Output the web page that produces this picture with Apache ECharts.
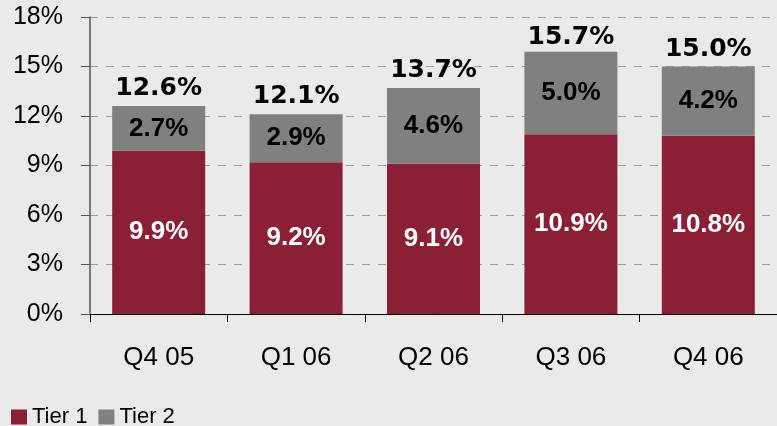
<!DOCTYPE html>
<html>
<head>
<meta charset="utf-8">
<script src="https://cdn.jsdelivr.net/npm/echarts@6/dist/echarts.min.js"></script>
<style>
  html, body { margin: 0; padding: 0; background: #eaeaea; }
  #chart { width: 777px; height: 426px; }
</style>
</head>
<body>
<div id="chart"></div>
<script>
const quarters = ['Q4 05', 'Q1 06', 'Q2 06', 'Q3 06', 'Q4 06'];
const tier1 = [9.9, 9.2, 9.1, 10.9, 10.8];
const tier2 = [2.7, 2.9, 4.6, 5.0, 4.2];
// totals as printed in the source (placed at these values, not at bar tops)
const totals = [12.6, 12.1, 13.7, 15.7, 15.0];
const yTicks = [0, 3, 6, 9, 12, 15, 18];

const font = 'Liberation Sans, Arial, sans-serif';

const chart = echarts.init(document.getElementById('chart'));

const pct = (p) => p.value.toFixed(1) + '%';

const option = {
    backgroundColor: '#eaeaea',
    animation: false,
    grid: { left: 90, right: -5, top: 17, bottom: 112 },
    legend: {
        data: ['Tier 1', 'Tier 2'],
        left: 6,
        top: 401,
        itemWidth: 16,
        itemHeight: 15,
        itemGap: 11,
        icon: 'rect',
        textStyle: { fontFamily: font, fontSize: 22, color: '#000' }
    },
    xAxis: {
        type: 'category',
        data: quarters,
        axisLine: { lineStyle: { color: '#000', width: 1 } },
        axisTick: { show: true, length: 8, lineStyle: { color: '#000' } },
        axisLabel: { fontFamily: font, fontSize: 26, color: '#000', margin: 31 }
    },
    yAxis: {
        type: 'value',
        min: yTicks[0],
        max: yTicks[yTicks.length - 1],
        interval: 3,
        axisLine: { show: true, lineStyle: { color: '#555', width: 1.5 } },
        axisTick: { show: true, length: 9, lineStyle: { color: '#555' } },
        axisLabel: {
            fontFamily: font, fontSize: 25, color: '#000', margin: 27,
            formatter: (v) => v + '%'
        },
        splitLine: { show: true, lineStyle: { color: '#9a9a9a', type: [8, 8], width: 1 } }
    },
    series: [
        {
            name: 'Tier 1',
            type: 'bar',
            stack: 'cap',
            barWidth: 93,
            data: tier1,
            itemStyle: { color: '#8b1f35' },
            label: {
                show: true,
                position: 'inside',
                fontFamily: font, fontSize: 26, fontWeight: 'bold', color: '#fff',
                formatter: pct
            }
        },
        {
            name: 'Tier 2',
            type: 'bar',
            stack: 'cap',
            barWidth: 93,
            data: tier2,
            itemStyle: { color: '#808080' },
            label: {
                show: true,
                position: 'inside',
                fontFamily: font, fontSize: 26, fontWeight: 'bold', color: '#000',
                formatter: pct
            }
        },
        {
            name: 'total',
            type: 'scatter',
            data: totals,
            symbolSize: 0,
            silent: true,
            itemStyle: { opacity: 1, color: '#000' },
            label: {
                show: true,
                position: 'top',
                distance: 5,
                fontFamily: 'DejaVu Sans, Verdana, sans-serif',
                fontSize: 25, fontWeight: 'bold', color: '#000', opacity: 1,
                formatter: pct
            }
        }
    ]
};

chart.setOption(option);
</script>
</body>
</html>
